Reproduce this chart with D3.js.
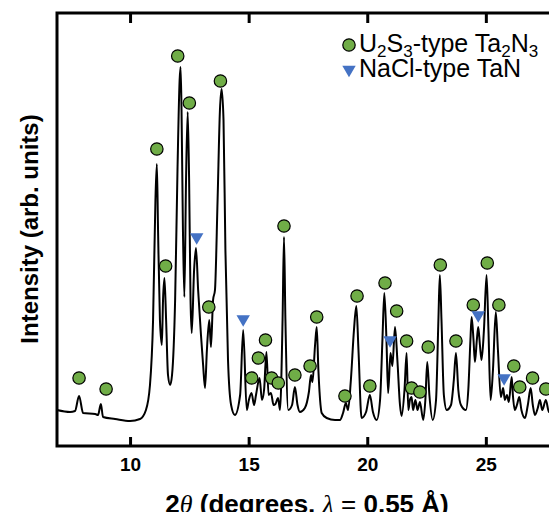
<!DOCTYPE html>
<html>
<head>
<meta charset="utf-8">
<script src="https://cdn.jsdelivr.net/npm/d3@7"></script>
<style>
  body { margin: 0; background: #fff; }
  svg { display: block; }
  text { font-family: "Liberation Sans", Arial, sans-serif; }
</style>
</head>
<body>
<div id="chart"></div>
<script>
// measured pattern: 2theta (deg) and intensity (arb. units)
var twoTheta = [6.92,7.47,7.68,7.85,8.02,8.53,8.65,8.77,8.86,9.37,10.00,10.42,10.67,10.84,10.97,11.07,11.13,11.18,11.26,11.34,
  11.39,11.45,11.52,11.60,11.69,11.77,11.90,12.00,12.09,12.13,12.17,12.23,12.29,12.36,12.43,12.49,12.55,12.60,12.70,12.78,
  12.87,12.99,13.08,13.16,13.24,13.34,13.41,13.50,13.58,13.69,13.79,13.86,13.94,14.02,14.13,14.26,14.42,14.64,14.77,14.92,
  15.01,15.12,15.23,15.31,15.46,15.56,15.65,15.75,15.84,15.94,16.05,16.13,16.24,16.32,16.43,16.49,16.55,16.67,16.83,16.95,
  17.06,17.16,17.37,17.54,17.63,17.69,17.80,17.87,17.94,18.03,18.08,18.29,18.64,18.85,18.98,19.10,19.19,19.31,19.44,19.54,
  19.63,19.76,19.95,20.11,20.24,20.40,20.54,20.64,20.72,20.81,20.88,20.98,21.06,21.17,21.27,21.38,21.45,21.57,21.66,21.73,
  21.80,21.87,21.93,22.03,22.12,22.22,22.36,22.45,22.53,22.62,22.76,22.90,23.00,23.06,23.13,23.23,23.35,23.53,23.65,23.74,
  23.84,23.95,24.16,24.26,24.35,24.40,24.48,24.54,24.62,24.68,24.75,24.82,24.92,25.03,25.11,25.20,25.30,25.42,25.51,25.63,
  25.73,25.80,25.89,25.97,26.09,26.14,26.22,26.31,26.41,26.50,26.65,26.77,26.89,26.98,27.07,27.19,27.28,27.38,27.53,27.66,
  27.83,27.99];
var intensity = [36,34,35,50,33,32,31,42,29,27,25,27,36,61,126,246,282,216,126,101,
  146,168,126,71,61,71,146,276,366,379,336,216,149,266,334,266,146,113,176,198,
  156,111,81,58,96,126,99,146,156,246,336,357,326,196,86,41,31,51,116,36,
  46,53,41,51,68,46,56,94,51,53,41,42,48,36,126,209,126,36,41,59,
  41,34,38,54,71,64,101,119,76,41,33,28,26,26,33,43,36,66,116,140,
  96,28,34,51,34,26,46,106,153,106,53,93,80,119,86,41,30,56,93,36,
  46,49,36,46,36,44,26,46,84,51,26,46,126,171,126,51,36,41,66,93,
  56,41,36,56,106,129,106,84,106,119,101,86,116,171,116,46,76,134,96,49,
  58,46,51,44,69,51,36,41,49,36,28,41,58,41,31,38,46,36,46,34,
  38,36];

// reflection markers
var ta2n3Pos = [7.85,8.99,11.13,11.50,12.01,12.50,13.32,13.81,15.13,15.41,15.71,15.97,16.25,16.49,16.95,17.59,17.87,
  19.06,19.57,20.11,20.75,21.24,21.66,21.87,22.22,22.57,23.08,23.74,24.47,25.06,25.55,26.18,26.43,26.97,27.53];
var ta2n3Int = [68,57,297,180,390,343,139,365,68,88,106,68,63,220,71,80,129,
  50,150,60,163,135,105,58,54,99,181,105,141,183,141,80,59,68,57];
var tanPos = [12.81,14.77,20.96,24.68,25.77];
var tanInt = [209,127,106,131,68];

var xTicks = [10,15,20,25];

var width = 549, height = 512;
var margin = {left:57, top:13, right:557, bottom:446};

var svg = d3.select("#chart").append("svg")
    .attr("width", width)
    .attr("height", height);

var x = d3.scaleLinear().domain([6.92, 28]).range([margin.left, margin.right]);
var y = d3.scaleLinear().domain([0, 433]).range([margin.bottom, margin.top]);

// pattern line
var line = d3.line()
    .x(function(d){ return x(d[0]); })
    .y(function(d){ return y(d[1]); })
    .curve(d3.curveMonotoneX);

svg.append("path")
    .datum(d3.zip(twoTheta, intensity))
    .attr("d", line)
    .attr("fill", "none")
    .attr("stroke", "#000")
    .attr("stroke-width", 2)
    .attr("stroke-linejoin", "round");

// frame
svg.append("rect")
    .attr("x", margin.left).attr("y", margin.top)
    .attr("width", margin.right - margin.left)
    .attr("height", margin.bottom - margin.top)
    .attr("fill", "none")
    .attr("stroke", "#000")
    .attr("stroke-width", 3);

// bottom axis, ticks inward
var xAxis = d3.axisBottom(x).tickValues(xTicks).tickSize(-9).tickPadding(12).tickFormat(d3.format("d"));
var gx = svg.append("g")
    .attr("transform", "translate(0," + margin.bottom + ")")
    .call(xAxis);
gx.select(".domain").remove();
gx.selectAll(".tick line").attr("stroke-width", 3);
gx.selectAll(".tick text")
    .attr("font-size", 19)
    .attr("font-weight", "bold")
    .attr("font-family", "Liberation Sans, Arial, sans-serif")
    .attr("fill", "#000");

// top axis ticks
var gt = svg.append("g")
    .attr("transform", "translate(0," + margin.top + ")")
    .call(d3.axisTop(x).tickValues(xTicks).tickSize(-10).tickFormat(""));
gt.select(".domain").remove();
gt.selectAll(".tick line").attr("stroke-width", 3);

// markers
svg.append("g").selectAll("circle")
    .data(d3.zip(ta2n3Pos, ta2n3Int))
    .enter().append("circle")
      .attr("cx", function(d){ return x(d[0]); })
      .attr("cy", function(d){ return y(d[1]); })
      .attr("r", 6.2)
      .attr("fill", "#70ad47")
      .attr("stroke", "#000")
      .attr("stroke-width", 1.2);

var tri = d3.symbol().type(d3.symbolTriangle).size(78);
svg.append("g").selectAll("path")
    .data(d3.zip(tanPos, tanInt))
    .enter().append("path")
      .attr("d", tri)
      .attr("transform", function(d){ return "translate(" + x(d[0]) + "," + y(d[1]) + ") rotate(180)"; })
      .attr("fill", "#4472c4");

// legend
svg.append("circle").attr("cx", 349).attr("cy", 45).attr("r", 6.2)
    .attr("fill", "#70ad47").attr("stroke", "#000").attr("stroke-width", 1.2);
svg.append("path").attr("d", tri)
    .attr("transform", "translate(349,69.5) rotate(180)")
    .attr("fill", "#4472c4");

// [text, font size, dy]
var l1 = svg.append("text").attr("x", 359).attr("y", 52).attr("font-size", 25).attr("fill", "#000");
[["U",25,0],["2",17,5],["S",25,-5],["3",17,5],["-type Ta",25,-5],["2",17,5],["N",25,-5],["3",17,5]].forEach(function(p){
  l1.append("tspan").text(p[0]).attr("font-size", p[1]).attr("dy", p[2]);
});

svg.append("text").attr("x", 359).attr("y", 77).attr("font-size", 25).attr("fill", "#000")
    .text("NaCl-type TaN");

// axis titles
var xt = svg.append("text")
    .attr("x", 307).attr("y", 513)
    .attr("text-anchor", "middle")
    .attr("font-size", 26).attr("font-weight", "bold").attr("fill", "#000");
xt.append("tspan").text("2");
xt.append("tspan").text("θ").attr("font-family", "Liberation Serif, serif").attr("font-style", "italic").attr("font-weight", "normal");
xt.append("tspan").text(" (degrees, ");
xt.append("tspan").text("λ").attr("font-family", "Liberation Serif, serif").attr("font-style", "italic").attr("font-weight", "normal");
xt.append("tspan").text(" = ").attr("font-weight", "normal");
xt.append("tspan").text("0.55 Å)");

svg.append("text")
    .attr("transform", "translate(38,229) rotate(-90)")
    .attr("text-anchor", "middle")
    .attr("font-size", 24).attr("font-weight", "bold").attr("fill", "#000")
    .text("Intensity (arb. units)");
</script>
</body>
</html>
